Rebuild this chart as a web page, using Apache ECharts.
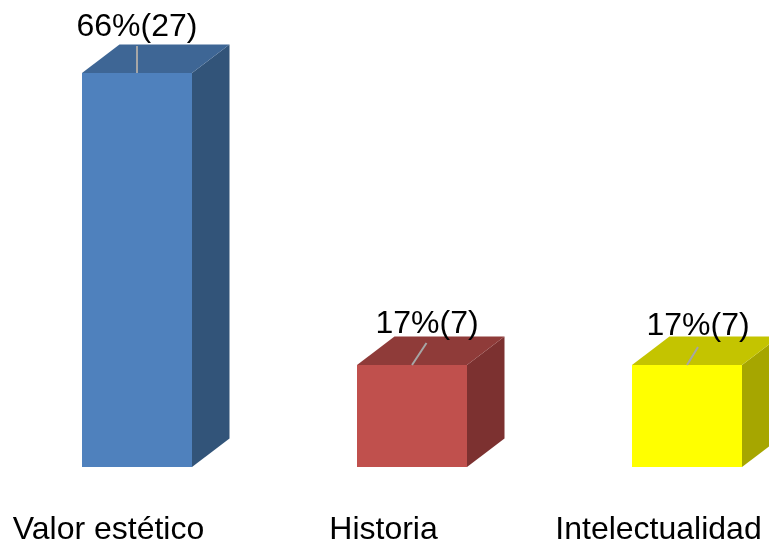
<!DOCTYPE html>
<html><head><meta charset="utf-8">
<style>html,body{margin:0;padding:0;background:#fff}#c{width:769px;height:541px}</style>
<script src="https://cdn.jsdelivr.net/npm/echarts@6/dist/echarts.min.js"></script>
</head><body><div id="c"></div>
<script>
const categories = ['Valor estético', 'Historia', 'Intelectualidad'];
const values = [27, 7, 7];
const labels = ['66%(27)', '17%(7)', '17%(7)'];
const frontColors = ['#4F81BD', '#C0504D', '#FFFF00'];
const topColors = ['#3E6695', '#8F3B39', '#C4C400'];
const sideColors = ['#325479', '#7C3130', '#A6A600'];
const labelOffsets = [[0, -47], [15, -42], [11, -40]];
const leaderEnds = [[0, -27], [14.5, -22], [11, -18]];

const DX = 37.5, DY = -28.4, BAR = 110;
const chart = echarts.init(document.getElementById('c'), null, {renderer: 'canvas'});
chart.setOption({
  animation: false,
  backgroundColor: '#fff',
  grid: {left: -1, top: 0, width: 825, height: 467, outerBoundsMode: 'none', containLabel: false},
  xAxis: {
    type: 'category', data: categories,
    axisLine: {show: false}, axisTick: {show: false},
    axisLabel: {
      interval: 0, hideOverlap: false, margin: 47,
      fontFamily: 'Liberation Sans', fontSize: 32, color: '#000',
      padding: [0, 56, 0, 0]
    }
  },
  yAxis: {type: 'value', min: 0, max: 32, show: false, splitLine: {show: false}},
  series: [{
    type: 'custom',
    clip: false,
    data: values.map((v, i) => [i, v]),
    encode: {x: 0, y: 1},
    renderItem(params, api) {
      const i = api.value(0);
      const t = api.coord([i, api.value(1)]);
      const b = api.coord([i, 0]);
      const l = Math.round(t[0] - BAR / 2), r = l + BAR, y0 = Math.round(t[1]), y1 = Math.round(b[1]);
      const cx = l + BAR / 2;
      const lo = labelOffsets[i], le = leaderEnds[i];
      return {type: 'group', children: [
        {type: 'polygon', shape: {points: [[r, y0], [r + DX, y0 + DY], [r + DX, y1 + DY], [r, y1]]}, style: {fill: sideColors[i]}},
        {type: 'polygon', shape: {points: [[l, y0], [l + DX, y0 + DY], [r + DX, y0 + DY], [r, y0]]}, style: {fill: topColors[i]}},
        {type: 'rect', shape: {x: l, y: y0, width: BAR, height: y1 - y0}, style: {fill: frontColors[i]}},
        {type: 'line', shape: {x1: cx, y1: y0, x2: cx + le[0], y2: y0 + le[1]}, style: {stroke: '#A6A6A6', lineWidth: 2}},
        {type: 'text', x: cx + lo[0], y: y0 + lo[1] + 1, style: {
          text: labels[i], fill: '#000', fontFamily: 'Liberation Sans', fontSize: 32,
          align: 'center', verticalAlign: 'middle'
        }}
      ]};
    }
  }]
});
</script></body></html>
